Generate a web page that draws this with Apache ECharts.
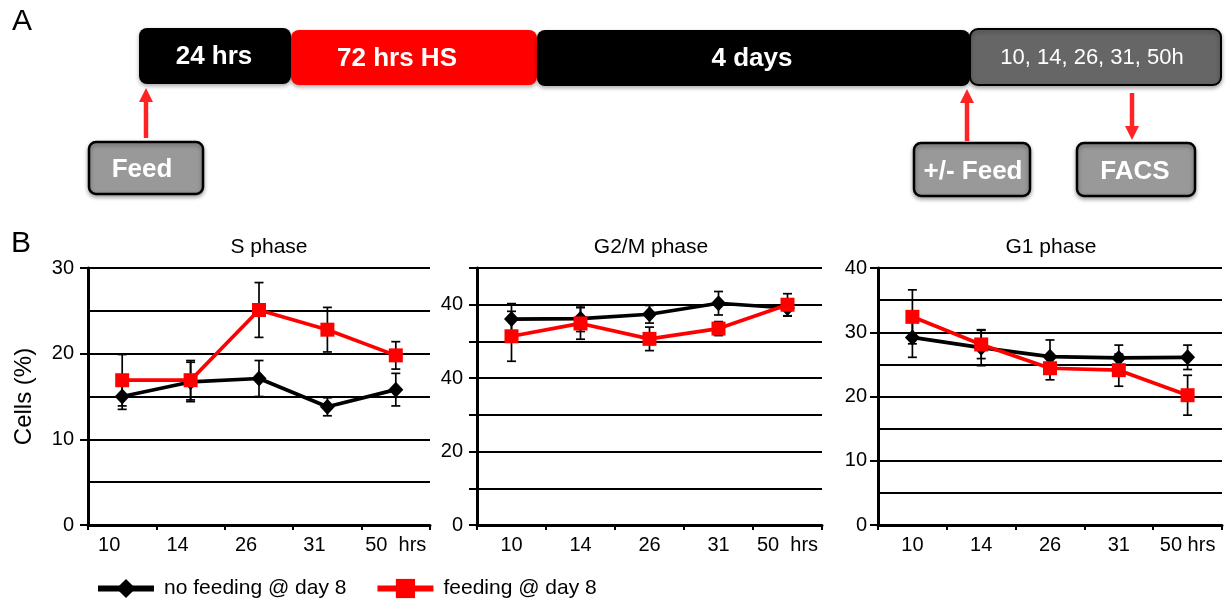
<!DOCTYPE html>
<html>
<head>
<meta charset="utf-8">
<script src="https://cdn.jsdelivr.net/npm/echarts@6/dist/echarts.min.js"></script>
<style>
html,body{margin:0;padding:0;background:#fff;}
#chart{width:1227px;height:601px;}
</style>
</head>
<body>
<div id="chart"></div>
<script>
// ---------- data ----------
const categories = ['10', '14', '26', '31', '50'];
const xLabelsS = ['10', '14', '26', '31', '50  hrs'];
const xLabelsG2M = ['10', '14', '26', '31', '50  hrs'];
const xLabelsG1 = ['10', '14', '26', '31', '50 hrs'];
const g2mTickLabels = ['0', '', '20', '', '40', '', '40', ''];

const seriesNames = ['no feeding @ day 8', 'feeding @ day 8'];
const panelTitles = ['S phase', 'G2/M phase', 'G1 phase'];

const noFeedS = [15.0, 16.7, 17.1, 13.8, 15.8];
const noFeedSErr = [1.5, 2.3, 2.1, 1.05, 1.9];
const feedS = [16.9, 16.9, 25.1, 22.8, 19.8];
const feedSErr = [3.0, 2.3, 3.2, 2.6, 1.6];

const noFeedG2M = [56.1, 56.2, 57.4, 60.4, 59.1];
const noFeedG2MErr = [4.2, 3.5, 2.4, 3.2, 2.2];
const feedG2M = [51.4, 54.9, 50.7, 53.5, 60.0];
const feedG2MErr = [6.8, 4.3, 3.2, 1.9, 3.0];

const noFeedG1 = [29.2, 27.6, 26.2, 26.0, 26.1];
const noFeedG1Err = [3.1, 2.8, 2.6, 2.0, 1.9];
const feedG1 = [32.4, 28.1, 24.4, 24.1, 20.2];
const feedG1Err = [4.2, 2.2, 1.8, 2.5, 3.1];

const timelineLabels = ['24 hrs', '72 hrs HS', '4 days', '10, 14, 26, 31, 50h'];
const stepLabels = ['Feed', '+/- Feed', 'FACS'];
const panelLetters = ['A', 'B'];

// ---------- styling ----------
const FONT = '"Liberation Sans", Arial, Helvetica, sans-serif';
const RED = '#ff0000';
const ARROW = '#ff2424';

const chart = echarts.init(document.getElementById('chart'), null, {renderer: 'canvas'});

function errSeries(idx, vals, errs) {
  return {
    type: 'custom', xAxisIndex: idx, yAxisIndex: idx, z: 1, silent: true,
    data: vals.map((v, i) => [i, v - errs[i], v + errs[i]]),
    encode: {x: 0, y: [1, 2]},
    renderItem: function (params, api) {
      const x = api.value(0);
      const lo = api.coord([x, api.value(1)]);
      const hi = api.coord([x, api.value(2)]);
      const c = 4.5;
      const st = {stroke: '#000', lineWidth: 1.7};
      return {type: 'group', children: [
        {type: 'line', shape: {x1: lo[0], y1: lo[1], x2: hi[0], y2: hi[1]}, style: st},
        {type: 'line', shape: {x1: lo[0] - c, y1: lo[1], x2: lo[0] + c, y2: lo[1]}, style: st},
        {type: 'line', shape: {x1: hi[0] - c, y1: hi[1], x2: hi[0] + c, y2: hi[1]}, style: st}
      ]};
    }
  };
}
function blackLine(idx, vals) {
  return {type: 'line', name: seriesNames[0], xAxisIndex: idx, yAxisIndex: idx, z: 3,
    data: vals, symbol: 'diamond', symbolSize: [15, 16],
    lineStyle: {color: '#000', width: 3.7}, itemStyle: {color: '#000'}};
}
function redLine(idx, vals) {
  return {type: 'line', name: seriesNames[1], xAxisIndex: idx, yAxisIndex: idx, z: 4,
    data: vals, symbol: 'rect', symbolSize: 14,
    lineStyle: {color: RED, width: 3.7}, itemStyle: {color: RED}};
}

const grids = [
  {left: 88, top: 268, width: 342, height: 257},
  {left: 477, top: 268, width: 345, height: 257},
  {left: 878, top: 268, width: 344, height: 257}
];
const xLabelSets = [xLabelsS, xLabelsG2M, xLabelsG1];

const xAxes = grids.map((g, k) => ({
  type: 'category', gridIndex: k, data: categories, boundaryGap: true,
  axisLine: {lineStyle: {color: '#000', width: 3}},
  axisTick: {show: true, length: 5, lineStyle: {color: '#000', width: 2}},
  axisLabel: {
    interval: 0, margin: 10, color: '#000', fontSize: 20, fontFamily: FONT,
    formatter: function (v, i) {
      const lab = xLabelSets[k][i];
      if (k === 0 && i < 4) return '{s|' + lab + '}';
      return lab;
    },
    rich: {s: {fontSize: 20, fontFamily: FONT, color: '#000', padding: [0, 26, 0, 0]}}
  }
}));

function yAxisBase(k, max) {
  return {
    type: 'value', gridIndex: k, min: 0, max: max, interval: 10,
    axisLine: {show: true, lineStyle: {color: '#000', width: 3}},
    axisTick: {show: true, length: 8, lineStyle: {color: '#000', width: 2}},
    axisLabel: {color: '#000', fontSize: 20, fontFamily: FONT, margin: 14},
    splitLine: {show: true, lineStyle: {color: '#000', width: 2}}
  };
}
const yS = yAxisBase(0, 30);
yS.minorTick = {show: true, splitNumber: 2, length: 0};
yS.minorSplitLine = {show: true, lineStyle: {color: '#000', width: 2}};
yS.name = 'Cells (%)';
yS.nameLocation = 'middle';
yS.nameGap = 52;
yS.nameRotate = 90;
yS.nameTextStyle = {color: '#000', fontSize: 24, fontFamily: FONT};

const yG2M = yAxisBase(1, 70);
yG2M.axisLabel.formatter = function (v) { return g2mTickLabels[Math.round(v / 10)]; };

const yG1 = yAxisBase(2, 40);
yG1.minorTick = {show: true, splitNumber: 2, length: 0};
yG1.minorSplitLine = {show: true, lineStyle: {color: '#000', width: 2}};
yG1.axisLabel.margin = 11;

// ---------- panel A diagram ----------
const graphics = [];
const tl = [
  {x: 139, y: 28, w: 152, h: 56, fill: '#000', tx: 214, bold: true, size: 26},
  {x: 291, y: 30, w: 246, h: 55, fill: RED, tx: 397, bold: true, size: 26},
  {x: 537, y: 30, w: 433, h: 56, fill: '#000', tx: 752, bold: true, size: 26},
  {x: 970, y: 29, w: 251, h: 56, fill: '#666', tx: 1092, bold: false, size: 22}
];
tl.forEach((b, i) => {
  graphics.push({type: 'rect', z: 10, shape: {x: b.x, y: b.y, width: b.w, height: b.h, r: 8},
    style: {fill: b.fill, stroke: i === 3 ? '#000' : null, lineWidth: 2,
      shadowBlur: 4, shadowOffsetY: 2, shadowColor: 'rgba(0,0,0,0.35)'}});
  graphics.push({type: 'text', z: 11, x: b.tx, y: b.y + b.h / 2 + 1,
    style: {text: timelineLabels[i], fill: '#fff', font: (b.bold ? 'bold ' : '') + b.size + 'px ' + FONT,
      align: 'center', verticalAlign: 'middle', textAlign: 'center', textVerticalAlign: 'middle'}});
});
const steps = [
  {x: 89, y: 142, w: 114, h: 52, tx: 142},
  {x: 914, y: 143, w: 116, h: 53, tx: 973},
  {x: 1077, y: 143, w: 118, h: 53, tx: 1135}
];
steps.forEach((b, i) => {
  graphics.push({type: 'rect', z: 10, shape: {x: b.x, y: b.y, width: b.w, height: b.h, r: 7},
    style: {fill: '#999', stroke: '#000', lineWidth: 2.5,
      shadowBlur: 4, shadowOffsetY: 2, shadowColor: 'rgba(0,0,0,0.35)'}});
  graphics.push({type: 'text', z: 11, x: b.tx, y: b.y + b.h / 2 + 2,
    style: {text: stepLabels[i], fill: '#fff', font: 'bold 26px ' + FONT,
      align: 'center', verticalAlign: 'middle', textAlign: 'center', textVerticalAlign: 'middle'}});
});
function arrow(x, yFrom, yTip) {
  const dir = yTip < yFrom ? -1 : 1;
  const headL = 14, headW = 7;
  graphics.push({type: 'line', z: 12, shape: {x1: x, y1: yFrom, x2: x, y2: yTip - dir * headL * 0.6},
    style: {stroke: ARROW, lineWidth: 4.5}});
  graphics.push({type: 'polygon', z: 12, shape: {points: [[x, yTip], [x - headW, yTip - dir * headL], [x + headW, yTip - dir * headL]]},
    style: {fill: ARROW}});
}
arrow(146, 138, 88);
arrow(967, 141, 89);
arrow(1132, 93, 140);

// ---------- option ----------
const option = {
  animation: false,
  backgroundColor: '#fff',
  textStyle: {fontFamily: FONT},
  title: [
    {text: panelLetters[0], left: 7, top: 2, textStyle: {fontSize: 30, fontWeight: 'normal', color: '#000', fontFamily: FONT}},
    {text: panelLetters[1], left: 6, top: 224, textStyle: {fontSize: 30, fontWeight: 'normal', color: '#000', fontFamily: FONT}},
    {text: panelTitles[0], left: 264, top: 232, textAlign: 'center', textStyle: {fontSize: 21, fontWeight: 'normal', color: '#000', fontFamily: FONT}},
    {text: panelTitles[1], left: 646, top: 232, textAlign: 'center', textStyle: {fontSize: 21, fontWeight: 'normal', color: '#000', fontFamily: FONT}},
    {text: panelTitles[2], left: 1046, top: 232, textAlign: 'center', textStyle: {fontSize: 21, fontWeight: 'normal', color: '#000', fontFamily: FONT}}
  ],
  legend: {
    data: seriesNames, left: 90, top: 573, itemWidth: 56, itemHeight: 24, itemGap: 28,
    lineStyle: {width: 6},
    textStyle: {fontSize: 21, color: '#000', fontFamily: FONT, padding: [0, 0, 0, 5]}
  },
  grid: grids,
  xAxis: xAxes,
  yAxis: [yS, yG2M, yG1],
  series: [
    errSeries(0, noFeedS, noFeedSErr), errSeries(0, feedS, feedSErr),
    blackLine(0, noFeedS), redLine(0, feedS),
    errSeries(1, noFeedG2M, noFeedG2MErr), errSeries(1, feedG2M, feedG2MErr),
    blackLine(1, noFeedG2M), redLine(1, feedG2M),
    errSeries(2, noFeedG1, noFeedG1Err), errSeries(2, feedG1, feedG1Err),
    blackLine(2, noFeedG1), redLine(2, feedG1)
  ],
  graphic: graphics
};
chart.setOption(option);
</script>
</body>
</html>
